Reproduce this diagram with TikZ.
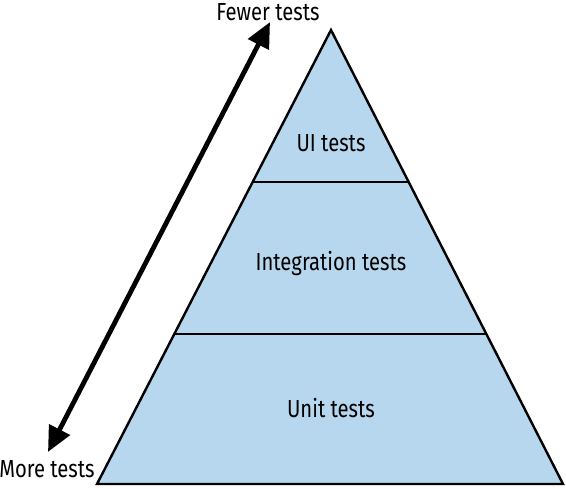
\documentclass[tikz,border=0pt]{standalone}
\usepackage{fontspec}
\setmainfont[FakeStretch=0.82]{Fira Sans}
\usepackage{tikz}
\usetikzlibrary{arrows.meta, positioning}
\definecolor{layerblue}{RGB}{183,215,238}

\begin{document}
\begin{tikzpicture}[x=0.75pt, y=-0.75pt, >={Triangle[length=19pt,width=17pt]},
    label/.style={font=\fontsize{18.5}{22}\selectfont, inner sep=0pt},
    layer/.style={fill=layerblue, draw=black, line width=1.8pt, line join=miter}]
    \useasboundingbox (0,0) rectangle (566,488);
    % Pyramid
    \coordinate (apex) at (331,30);
    \coordinate (baseL) at (97,484);
    \coordinate (baseR) at (563,484);
    \filldraw[layer] (apex) -- (baseR) -- (baseL) -- cycle;
    \draw[line width=1.8pt] (253,182) -- (409,182);
    \draw[line width=1.8pt] (175,334) -- (487,334);
    % Layer labels
    \node[label] (ui) at (331,143) {UI tests};
    \node[label] (integ) at (331,264) {Integration tests};
    \node[label] (unit) at (331,408) {Unit tests};
    % Arrow
    \coordinate (lo) at (48,452);
    \coordinate (hi) at (270,22);
    \draw[<->, line width=3.6pt] (lo) -- (hi);
    \node[label] (fewer) at (268,12) {Fewer tests};
    \node[label] (more) at (47,469) {More tests};
\end{tikzpicture}
\end{document}
